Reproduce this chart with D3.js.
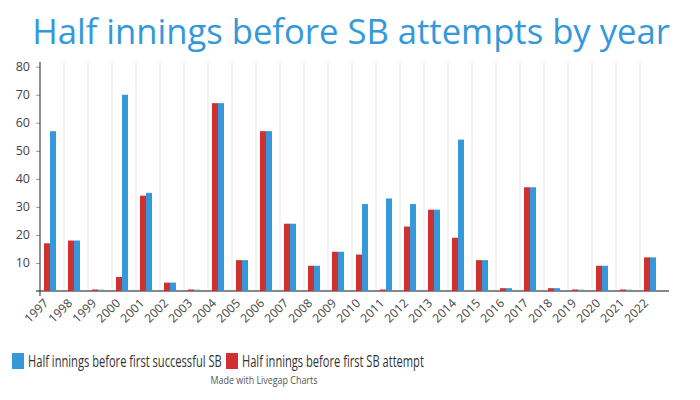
<!DOCTYPE html>
<html>
<head>
<meta charset="utf-8">
<script src="https://cdn.jsdelivr.net/npm/d3@7"></script>
<style>
  body { margin: 0; background: #fff; }
  svg { display: block; font-family: "Open Sans", sans-serif; }
</style>
</head>
<body>
<svg id="chart" width="700" height="400"></svg>
<script>
const years = ["1997","1998","1999","2000","2001","2002","2003","2004","2005","2006","2007","2008","2009","2010","2011","2012","2013","2014","2015","2016","2017","2018","2019","2020","2021","2022"];
const attempt = [17,18,0,5,34,3,0,67,11,57,24,9,14,13,0,23,29,19,11,1,37,1,0,9,0,12];
const successful = [57,18,0,70,35,3,0,67,11,57,24,9,14,31,33,31,29,54,11,1,37,1,0,9,0,12];
const yTicks = [10,20,30,40,50,60,70,80];
const seriesNames = ["Half innings before first successful SB", "Half innings before first SB attempt"];
const colors = {successful: "#3498db", attempt: "#d03030"};

const svg = d3.select("#chart");
const mLeft = 40, mRight = 664, mTop = 66.7, mBottom = 291;

const x = d3.scaleBand().domain(years).range([mLeft, mRight]).padding(0);
const y = d3.scaleLinear().domain([0, 80]).range([mBottom, mTop]);

// fit a text horizontally to a target width via scale transform
function fitText(sel, x0, y0, width, anchor) {
  const w = sel.node().getComputedTextLength();
  const s = width / w;
  sel.attr("text-anchor", anchor).attr("transform", `translate(${x0},${y0}) scale(${s},1)`);
}

// title
const title = svg.append("text").attr("font-size", 35).attr("fill", "#3498db")
  .text("Half innings before SB attempts by year");
fitText(title, 351, 44, 638, "middle");

// vertical gridlines at band boundaries
svg.append("g").selectAll("line").data(years.slice(1)).join("line")
  .attr("x1", d => x(d)).attr("x2", d => x(d))
  .attr("y1", 62).attr("y2", mBottom)
  .attr("stroke", "#e6e6e6").attr("stroke-width", 1);

// y axis
const yAxis = d3.axisLeft(y).tickValues(yTicks).tickSize(4).tickPadding(6);
const ya = svg.append("g").attr("transform", `translate(${mLeft},0)`).call(yAxis);
ya.select(".domain").remove();
ya.selectAll(".tick line").attr("stroke", "#999");
ya.selectAll("text").attr("font-size", 12.5).attr("fill", "#444").attr("font-family", "Open Sans, sans-serif");

// baseline
svg.append("line").attr("x1", 36).attr("x2", 669).attr("y1", mBottom).attr("y2", mBottom)
  .attr("stroke", "#888").attr("stroke-width", 2);

const inner = d3.scaleBand().domain(["attempt","successful"]).range([4, 16]);

const groups = svg.append("g").selectAll("g").data(years).join("g")
  .attr("transform", d => `translate(${x(d)},0)`);

groups.append("rect")
  .attr("x", inner("attempt")).attr("width", inner.bandwidth())
  .attr("y", (d,i) => Math.min(y(attempt[i]), mBottom - 1.5))
  .attr("height", (d,i) => Math.max(mBottom - y(attempt[i]), 1.5))
  .attr("fill", colors.attempt);
groups.append("rect")
  .attr("x", inner("successful")).attr("width", inner.bandwidth())
  .attr("y", (d,i) => Math.min(y(successful[i]), mBottom - 1.5))
  .attr("height", (d,i) => Math.max(mBottom - y(successful[i]), 1.5))
  .attr("fill", colors.successful).attr("fill-opacity", (d,i) => successful[i] === 0 ? 0.5 : 1);

// y axis line
svg.append("line").attr("x1", mLeft).attr("x2", mLeft).attr("y1", 62).attr("y2", 296)
  .attr("stroke", "#222").attr("stroke-width", 1);

// x labels
svg.append("g").selectAll("text").data(years).join("text")
  .attr("transform", d => `translate(${x(d) + x.bandwidth()/2 - 3},${mBottom + 13}) rotate(-45)`)
  .attr("text-anchor", "end")
  .attr("font-size", 12).attr("fill", "#444")
  .text(d => d);

// legend
const legend = svg.append("g");
legend.append("rect").attr("x", 12).attr("y", 353).attr("width", 12).attr("height", 16).attr("fill", colors.successful);
const l1 = legend.append("text").attr("font-size", 16).attr("fill", "#333").text(seriesNames[0]);
fitText(l1, 28, 366.5, 194, "start");
legend.append("rect").attr("x", 226).attr("y", 353).attr("width", 12).attr("height", 16).attr("fill", colors.attempt);
const l2 = legend.append("text").attr("font-size", 16).attr("fill", "#333").text(seriesNames[1]);
fitText(l2, 242, 366.5, 182, "start");

const credit = svg.append("text").attr("font-size", 11).attr("fill", "#555").text("Made with Livegap Charts");
fitText(credit, 264, 384, 107, "middle");
</script>
</body>
</html>
